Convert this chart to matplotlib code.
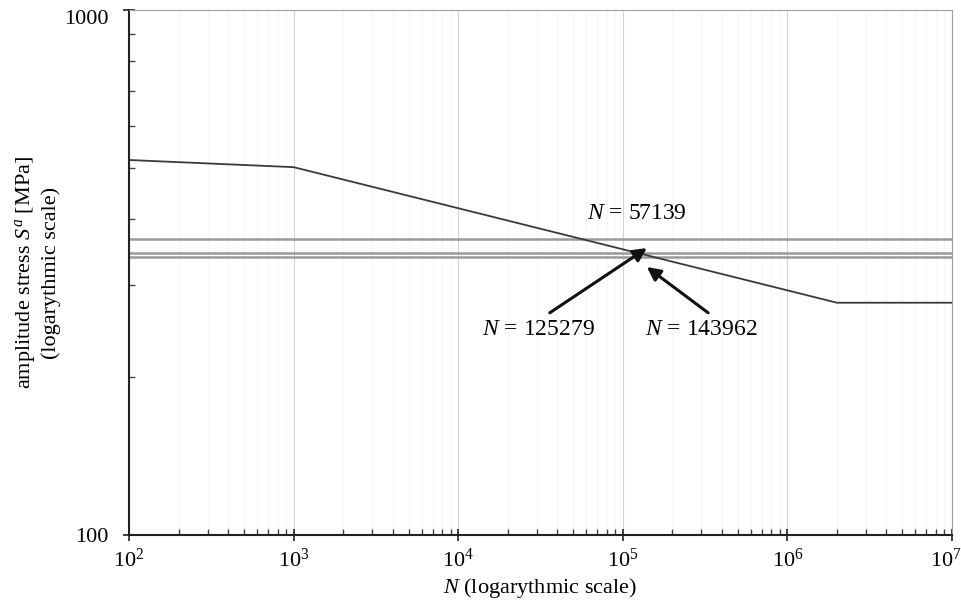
import matplotlib
matplotlib.use('Agg')
import matplotlib.pyplot as plt
from matplotlib.ticker import LogLocator, NullFormatter
from matplotlib.transforms import ScaledTranslation

plt.rcParams['font.family'] = ['Liberation Serif', 'DejaVu Serif']
plt.rcParams['mathtext.fontset'] = 'custom'
plt.rcParams['mathtext.rm'] = 'Liberation Serif'
plt.rcParams['mathtext.it'] = 'Liberation Serif:italic'

# S-N curve (cycles, stress amplitude in MPa)
curve_N = [1e2, 1e3, 2e6, 1e7]
curve_S = [518, 502, 277, 277]

# stress levels and the resulting lives
level_S = [366, 345, 339]
level_N = [57139, 125279, 143962]

# annotation anchors
label_pos = [(122000, 409), (30800, 246), (298000, 246)]
arrow_heads = [(140000, 352), (140000, 324)]
arrow_tails = [(36000, 265), (330000, 265)]

x_ticks = [1e2, 1e3, 1e4, 1e5, 1e6, 1e7]
x_ticklabels = ['$10^{%d}$' % e for e in range(2, 8)]

fig = plt.figure(figsize=(9.62, 6.04), dpi=100)
ax = fig.add_axes([0.1341, 0.1142, 0.8555, 0.8692])
ax.set_xscale('log')
ax.set_yscale('log')
ax.set_xlim(1e2, 1e7)
ax.set_ylim(100, 1000)

# vertical grid only
ax.grid(True, which='major', axis='x', color='#d4d4d4', lw=0.8)
ax.grid(True, which='minor', axis='x', color='#f6f6f6', lw=0.8)

for s in level_S:
    ax.axhline(s, color='#9a9a9a', lw=1.8, zorder=2)

ax.plot(curve_N, curve_S, color='#3a3a3a', lw=1.3, zorder=3)

for (x, y), n in zip(label_pos, level_N):
    ax.text(x, y, '$N$ = %d' % n, ha='center', va='center', fontsize=17)

for head, tail in zip(arrow_heads, arrow_tails):
    ax.annotate('', xy=head, xytext=tail,
                arrowprops=dict(arrowstyle='-|>', color='#111111', lw=2.2,
                                mutation_scale=20, shrinkA=0, shrinkB=0), zorder=4)

ax.set_xticks(x_ticks)
ax.set_xticklabels(x_ticklabels)
ax.xaxis.set_minor_locator(LogLocator(base=10, subs=range(2, 10), numticks=20))
ax.xaxis.set_minor_formatter(NullFormatter())
ax.set_yticks([100, 1000])
ax.set_yticklabels(['100', '1000'])
ax.yaxis.set_minor_locator(LogLocator(base=10, subs=range(2, 10), numticks=20))
ax.yaxis.set_minor_formatter(NullFormatter())

ax.tick_params(which='major', direction='inout', length=8, width=1.2, labelsize=16, color='#222222')
ax.tick_params(which='minor', direction='in', length=4, width=1.0, color='#444444')
ax.tick_params(axis='x', which='major', pad=6)
ax.tick_params(axis='y', which='major', pad=11)

# reference nudges the last x label and the top y label
last = ax.xaxis.get_major_ticks()[-1].label1
last.set_transform(last.get_transform() + ScaledTranslation(-0.06, 0, fig.dpi_scale_trans))
ax.yaxis.get_major_ticks()[-1].label1.set_verticalalignment('top')

ax.spines['left'].set_color('#222222')
ax.spines['left'].set_linewidth(1.5)
ax.spines['bottom'].set_color('#222222')
ax.spines['bottom'].set_linewidth(1.5)
ax.spines['top'].set_color('#a0a0a0')
ax.spines['right'].set_color('#a0a0a0')

ax.set_xlabel('$N$ (logarythmic scale)', fontsize=16, labelpad=3)
ax.set_ylabel('amplitude stress $S^a$ [MPa]\n(logarythmic scale)', fontsize=16, labelpad=2)

plt.savefig('out.png', dpi=100)
